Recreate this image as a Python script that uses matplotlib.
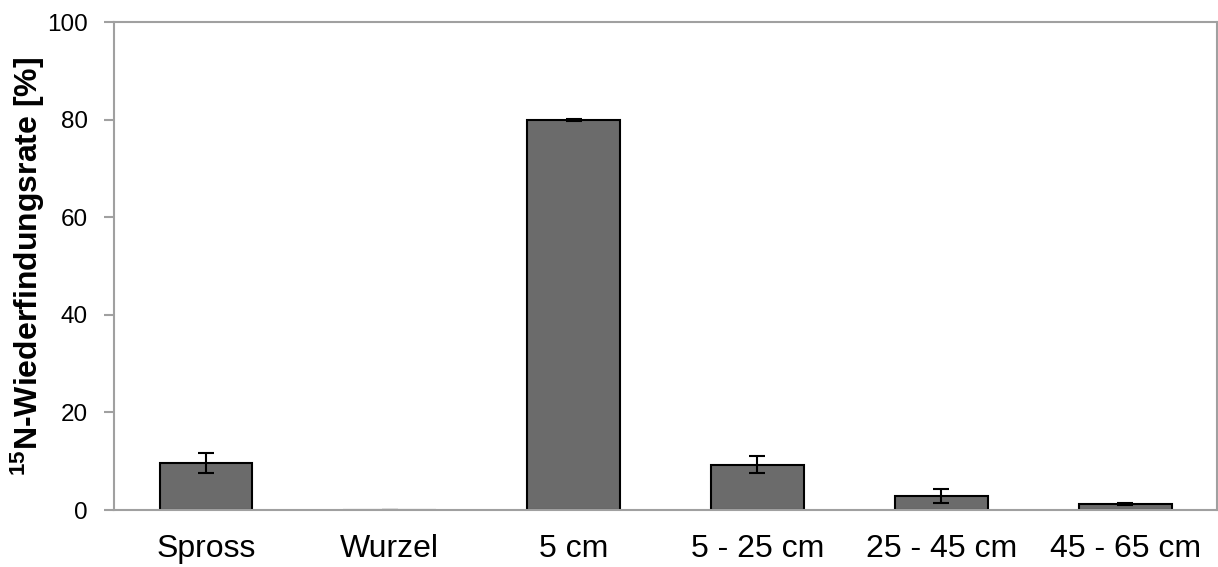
import matplotlib
matplotlib.use("Agg")
import matplotlib.pyplot as plt

categories = ["Spross", "Wurzel", "5 cm", "5 - 25 cm", "25 - 45 cm", "45 - 65 cm"]
values = [9.6, 0.1, 80.0, 9.3, 2.9, 1.3]
errors = [2.0, 0.0, 0.2, 1.8, 1.45, 0.2]
yticks = [0, 20, 40, 60, 80, 100]

plt.rcParams["font.family"] = ["Liberation Sans", "DejaVu Sans"]
plt.rcParams["mathtext.fontset"] = "custom"
plt.rcParams["mathtext.rm"] = "Liberation Sans"
plt.rcParams["mathtext.bf"] = "Liberation Sans:bold"

fig = plt.figure(figsize=(12.18, 5.67), dpi=100)
ax = fig.add_axes([0.0936, 0.1005, 0.9056, 0.8605])

x = range(len(categories))
ax.bar(x, values, width=0.505, color="#6b6b6b", edgecolor="black", linewidth=1.5,
       yerr=errors, capsize=6, error_kw=dict(ecolor="black", elinewidth=1.5, capthick=1.5),
       zorder=2)

ax.set_xlim(-0.5, len(categories) - 0.5)
ax.set_ylim(0, 100)
ax.set_yticks(yticks)
ax.set_yticklabels([str(t) for t in yticks], fontsize=17.5)
ax.set_xticks(list(x))
ax.set_xticklabels(categories, fontsize=23)
ax.tick_params(axis="x", length=0, pad=17)
ax.tick_params(axis="y", length=7, width=1.5, color="#a0a0a0", pad=12)

for side in ["left", "right", "top", "bottom"]:
    ax.spines[side].set_color("#a0a0a0")
    ax.spines[side].set_linewidth(1.5)

ax.set_ylabel(r"$\mathbf{^{15}}$N-Wiederfindungsrate [%]", fontsize=23,
              fontweight="bold", labelpad=0)

fig.savefig("out.png", dpi=100)
